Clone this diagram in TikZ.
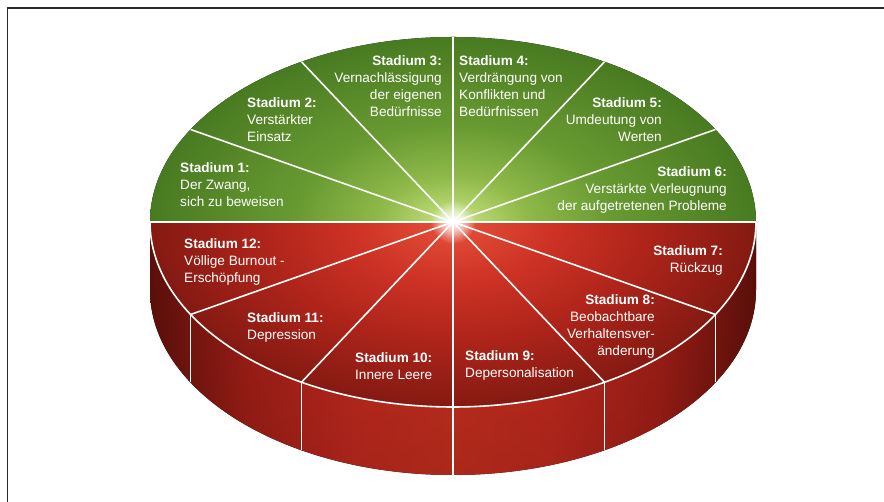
\documentclass[tikz,border=0pt]{standalone}
\usepackage{fontspec}
\setmainfont{Liberation Sans}
\usetikzlibrary{fadings}
\definecolor{framegray}{HTML}{2A2A2A}
\definecolor{gA}{HTML}{E0EEB8}
\definecolor{gB}{HTML}{B8D672}
\definecolor{gC}{HTML}{90BA4A}
\definecolor{gD}{HTML}{689A32}
\definecolor{gE}{HTML}{487A21}
\definecolor{rA}{HTML}{F08A70}
\definecolor{rB}{HTML}{E04A35}
\definecolor{rC}{HTML}{CE3325}
\definecolor{rD}{HTML}{AE241A}
\definecolor{rE}{HTML}{841A12}
\definecolor{sA}{HTML}{5E100B}
\definecolor{sB}{HTML}{A21F17}
\definecolor{sC}{HTML}{C42A1F}
\definecolor{sD}{HTML}{C9301F}
\pgfdeclareradialshading{greenface}{\pgfpoint{0bp}{0bp}}{color(0bp)=(gA); color(2bp)=(gB); color(6bp)=(gC); color(13bp)=(gD); color(25bp)=(gE); color(50bp)=(gE)}
\pgfdeclareradialshading{redface}{\pgfpoint{0bp}{0bp}}{color(0bp)=(rA); color(2bp)=(rB); color(8bp)=(rC); color(16bp)=(rD); color(25bp)=(rE); color(50bp)=(rE)}
\pgfdeclarehorizontalshading{redside}{100bp}{color(0bp)=(sA); color(25bp)=(sA); color(33bp)=(sB); color(42bp)=(sC); color(50bp)=(sD); color(58bp)=(sC); color(67bp)=(sB); color(75bp)=(sA); color(100bp)=(sA)}
\tikzfading[name=glowfade, inner color=transparent!0, outer color=transparent!100]
\tikzset{
  stagetext/.style={text=white, inner sep=0pt, font=\fontsize{13.6}{17}\selectfont},
  leftstage/.style={stagetext, align=left, anchor=north west},
  rightstage/.style={stagetext, align=right, anchor=north east},
  divline/.style={draw=white, line width=1.6pt},
  frameline/.style={draw=framegray, line width=1.5pt}
}
\begin{document}
\begin{tikzpicture}[x=1pt,y=1pt]
\useasboundingbox (0,0) rectangle (884,502);
\fill[white] (0,0) rectangle (884,502);
% frame
\draw[frameline] (7.5,0) -- (7.5,494) -- (884,494);
% named points
\coordinate (ctr) at (453,280);
\foreach \a [count=\i from 0] in {0,30,...,330} {
  \coordinate (p\i) at ({453+303*cos(\a)},{280+185*sin(\a)});
  \coordinate (b\i) at ({453+303*cos(\a)},{212+185*sin(\a)});
}
% side of the cylinder
\fill[shading=redside] (150,280) -- (150,212) arc[start angle=180, end angle=360, x radius=303pt, y radius=185pt] -- (756,280) -- cycle;
\fill[black, opacity=0.15, path fading=north] (150,280) -- (150,212) arc[start angle=180, end angle=360, x radius=303pt, y radius=185pt] -- (756,280) -- cycle;
% red top face (lower half)
\begin{scope}
  \clip (140,280) rectangle (770,80);
  \fill[shading=redface] (ctr) ellipse[x radius=303pt, y radius=185pt];
\end{scope}
% green top face (upper half)
\begin{scope}
  \clip (140,280) rectangle (770,480);
  \fill[shading=greenface] (ctr) ellipse[x radius=303pt, y radius=185pt];
\end{scope}
% vertical side lines
\foreach \i in {7,8,9,10,11} { \draw[divline] (p\i) -- (b\i); }
% rim
\draw[divline] (p6) arc[start angle=180, end angle=360, x radius=303pt, y radius=185pt];
% spokes
\foreach \i in {0,...,11} { \draw[divline] (ctr) -- (p\i); }
% glow
\fill[white, path fading=glowfade] (ctr) circle (22pt);
\fill[white] (ctr) circle (2.5pt);
% texts
\node[leftstage] (s1) at (180,340) {\textbf{Stadium 1:}\\Der Zwang,\\sich zu beweisen};
\node[leftstage] (s2) at (247,405) {\textbf{Stadium 2:}\\Verstärkter\\Einsatz};
\node[rightstage] (s3) at (442,447) {\textbf{Stadium 3:}\\Vernachlässigung\\der eigenen\\Bedürfnisse};
\node[leftstage] (s4) at (459,447) {\textbf{Stadium 4:}\\Verdrängung von\\Konflikten und\\Bedürfnissen};
\node[rightstage] (s5) at (662,405) {\textbf{Stadium 5:}\\Umdeutung von\\Werten};
\node[rightstage] (s6) at (727,336) {\textbf{Stadium 6:}\\Verstärkte Verleugnung\\der aufgetretenen Probleme};
\node[rightstage] (s7) at (723,257) {\textbf{Stadium 7:}\\Rückzug};
\node[rightstage] (s8) at (655,208) {\textbf{Stadium 8:}\\Beobachtbare\\Verhaltensver-\\änderung};
\node[leftstage] (s9) at (465,152) {\textbf{Stadium 9:}\\Depersonalisation};
\node[leftstage] (s10) at (355,150) {\textbf{Stadium 10:}\\Innere Leere};
\node[leftstage] (s11) at (247,190) {\textbf{Stadium 11:}\\Depression};
\node[leftstage] (s12) at (184,264) {\textbf{Stadium 12:}\\Völlige Burnout -\\Erschöpfung};
\end{tikzpicture}
\end{document}
